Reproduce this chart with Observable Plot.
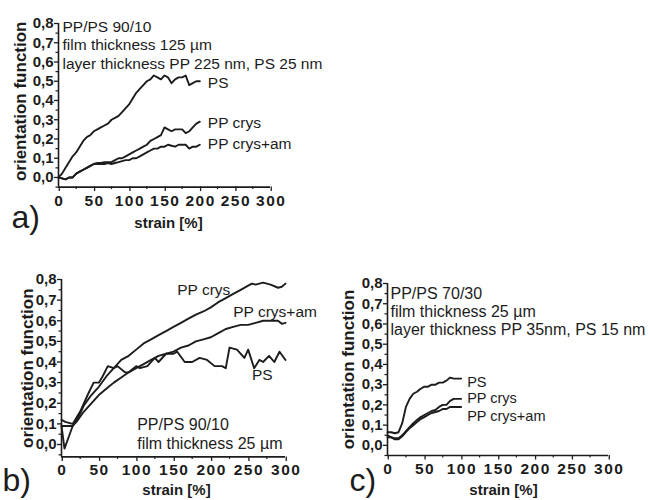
<!DOCTYPE html>
<html><head><meta charset="utf-8">
<script src="https://cdn.jsdelivr.net/npm/d3@7"></script>
<script src="https://cdn.jsdelivr.net/npm/@observablehq/plot@0.6"></script>
<style>
body{margin:0;background:#fff}
#wrap{position:relative;width:648px;height:500px;background:#fff}
#wrap svg{position:absolute;overflow:visible}
#wrap g[aria-label="x-axis tick label"] text{letter-spacing:1.5px}
</style>
</head><body><div id="wrap"></div>
<script>
// ---------- data ----------
const seriesNames = ["PS", "PP crys", "PP crys+am"];
const xMajor = [0, 50, 100, 150, 200, 250, 300];
const xMinor = [25, 75, 125, 175, 225, 275];
const yMajor = [0, 0.1, 0.2, 0.3, 0.4, 0.5, 0.6, 0.7, 0.8];
const yMinor = [-0.05, 0.05, 0.15, 0.25, 0.35, 0.45, 0.55, 0.65, 0.75];

// panel a) PP/PS 90/10, 125 µm
const aStrain = [0,5,10,15,20,25,30,35,40,45,50,55,60,65,70,75,80,85,90,95,100,105,110,115,120,125,130,135,140,145,150,155,160,165,170,175,180,185,190,195,200];
const aPS = [0.00,0.02,0.05,0.08,0.11,0.13,0.16,0.19,0.21,0.22,0.24,0.25,0.26,0.27,0.28,0.30,0.31,0.32,0.34,0.36,0.38,0.41,0.44,0.46,0.48,0.50,0.51,0.53,0.52,0.51,0.53,0.52,0.49,0.51,0.52,0.52,0.53,0.48,0.49,0.50,0.50];
const aPPcrys = [0.00,-0.005,-0.01,0.00,0.00,0.02,0.03,0.04,0.05,0.06,0.07,0.075,0.075,0.08,0.08,0.08,0.09,0.10,0.10,0.11,0.12,0.13,0.14,0.15,0.16,0.17,0.19,0.20,0.21,0.22,0.26,0.25,0.24,0.25,0.25,0.25,0.23,0.24,0.26,0.28,0.29];
const aPPcrysAm = [0.00,-0.005,-0.01,0.00,0.00,0.02,0.03,0.04,0.05,0.06,0.07,0.07,0.07,0.07,0.075,0.07,0.075,0.08,0.085,0.09,0.09,0.10,0.10,0.11,0.12,0.13,0.14,0.15,0.15,0.16,0.16,0.17,0.165,0.16,0.17,0.17,0.17,0.15,0.16,0.16,0.17];
const aNote = ["PP/PS 90/10", "film thickness 125 µm", "layer thickness PP 225 nm, PS 25 nm"];

// panel b) PP/PS 90/10, 25 µm
const bPSStrain = [0,5,15,25,35,43,50,55,62,70,75,85,90,100,105,115,125,130,140,150,155,165,175,185,195,205,215,220,225,235,245,250,258,265,270,278,285,292,300];
const bPS = [0.12,0.11,0.10,0.16,0.24,0.30,0.30,0.33,0.38,0.37,0.38,0.35,0.35,0.38,0.37,0.38,0.42,0.40,0.44,0.44,0.45,0.40,0.40,0.42,0.41,0.38,0.38,0.37,0.47,0.46,0.42,0.46,0.37,0.41,0.40,0.43,0.40,0.45,0.41];
const bCrysStrain = [0,10,15,20,25,30,40,50,60,70,80,90,100,110,120,130,140,150,160,170,180,190,200,210,220,230,240,250,255,260,265,270,275,280,290,295,300];
const bPPcrys = [0.09,0.09,0.09,0.12,0.15,0.19,0.24,0.28,0.33,0.37,0.41,0.43,0.46,0.49,0.51,0.53,0.55,0.57,0.59,0.61,0.63,0.645,0.665,0.69,0.71,0.73,0.75,0.77,0.78,0.775,0.78,0.785,0.78,0.775,0.76,0.765,0.78];
const bAmStrain = [0,4,10,15,20,30,40,50,60,70,80,90,100,110,120,130,140,150,160,170,180,190,200,210,220,230,240,250,260,270,280,290,295,300];
const bPPcrysAm = [0.09,-0.02,0.04,0.09,0.11,0.16,0.20,0.24,0.27,0.30,0.325,0.35,0.37,0.39,0.41,0.43,0.44,0.45,0.47,0.48,0.50,0.51,0.52,0.54,0.56,0.57,0.58,0.58,0.59,0.60,0.60,0.60,0.585,0.59];
const bNote = ["PP/PS 90/10", "film thickness 25 µm"];

// panel c) PP/PS 70/30, 25 µm
const cStrain = [0,5,10,15,20,25,30,35,40,45,50,55,60,65,70,75,80,85,90,95,100];
const cPS = [0.065,0.065,0.06,0.065,0.11,0.19,0.23,0.255,0.265,0.28,0.29,0.29,0.30,0.30,0.31,0.31,0.32,0.335,0.33,0.33,0.33];
const cPPcrys = [0.04,0.04,0.035,0.035,0.05,0.07,0.09,0.11,0.125,0.14,0.15,0.16,0.17,0.175,0.19,0.20,0.20,0.22,0.23,0.23,0.23];
const cPPcrysAm = [0.05,0.04,0.03,0.03,0.045,0.065,0.085,0.10,0.115,0.13,0.14,0.15,0.16,0.165,0.17,0.18,0.18,0.19,0.19,0.19,0.19];
const cNote = ["PP/PS 70/30", "film thickness 25 µm", "layer thickness PP 35nm, PS 15 nm"];

const xLabel = "strain [%]";
const yLabel = "orientation function";

// ---------- helpers ----------
const FONT = '"Liberation Sans", Arial, Helvetica, sans-serif';
const INK = "#1c1c1c";
const fmtY = d => d.toFixed(1).replace(".", ",");
const rows = (xs, ys, s) => xs.map((x, i) => ({x, y: ys[i], s}));

function panel(cfg) {
  const data = cfg.series.flat();
  const marks = [
    Plot.axisX({ticks: xMinor, anchor: "bottom", tickSize: 2.5, fill: "none", stroke: INK, strokeWidth: 1.2, label: null}),
    Plot.axisX({ticks: xMajor, anchor: "bottom", tickSize: 4.5, tickPadding: 3, tickFormat: d => String(d),
      fontSize: 15.5, fontWeight: "bold", fill: INK, stroke: INK, strokeWidth: 1.3, label: null, dx: 0.75}),
    Plot.axisY({ticks: yMinor, anchor: "left", tickSize: 2.5, fill: "none", stroke: INK, strokeWidth: 1.2, label: null}),
    Plot.axisY({ticks: yMajor, anchor: "left", tickSize: 4, tickPadding: 1, tickFormat: fmtY,
      fontSize: 15, fontWeight: "bold", fill: INK, stroke: INK, strokeWidth: 1.3, label: null}),
    Plot.ruleX([0], {stroke: INK, strokeWidth: 1.6}),
    Plot.ruleY([cfg.ymin], {stroke: INK, strokeWidth: 1.6}),
    Plot.line(data, {x: "x", y: "y", z: "s", stroke: INK, strokeWidth: 1.9}),
    // axis titles
    Plot.text([xLabel], {text: d => d, frameAnchor: "bottom", lineAnchor: "middle", dx: cfg.xlab[0], dy: cfg.xlab[1],
      fontSize: 15, fontWeight: "bold", fill: INK}),
    Plot.text([yLabel], {text: d => d, frameAnchor: "left", rotate: -90, textAnchor: "middle", lineAnchor: "middle",
      dx: cfg.ylab[0], dy: cfg.ylab[1], fontSize: 17, fontWeight: "bold", fill: INK}),
    // panel letter
    Plot.text([cfg.letter], {text: d => d, frameAnchor: "bottom-left", textAnchor: "start", lineAnchor: "middle",
      dx: cfg.letterPos[0], dy: cfg.letterPos[1], fontSize: 32, fontWeight: "normal", fill: INK}),
    // note block
    Plot.text([cfg.note.join("\n")], {text: d => d, frameAnchor: "top-left", textAnchor: "start", lineAnchor: "top",
      dx: cfg.notePos[0], dy: cfg.notePos[1], fontSize: cfg.noteSize, lineHeight: cfg.noteLH, fontWeight: "normal", fill: INK})
  ];
  cfg.labels.forEach(l => marks.push(l));
  const svg = Plot.plot({
    width: cfg.width, height: cfg.height,
    marginLeft: cfg.mL, marginRight: cfg.mR, marginTop: cfg.mT, marginBottom: cfg.mB,
    x: {domain: [0, 300], axis: null, label: null},
    y: {domain: [cfg.ymin, 0.8], axis: null, label: null},
    style: {fontFamily: FONT, background: "transparent", color: INK, overflow: "visible"},
    marks
  });
  svg.style.left = cfg.left + "px";
  svg.style.top = cfg.top + "px";
  document.getElementById("wrap").appendChild(svg);
}

function endLabels(data, dx, dys, size) {
  return seriesNames.map((name, i) =>
    Plot.text(data.filter(d => d.s === name), Plot.selectLast({x: "x", y: "y", text: "s", dx, dy: dys[i],
      textAnchor: "start", lineAnchor: "middle", fontSize: size, fontWeight: "normal", fill: INK})));
}

// ---------- panel a ----------
const aData = [rows(aStrain, aPS, "PS"), rows(aStrain, aPPcrys, "PP crys"), rows(aStrain, aPPcrysAm, "PP crys+am")];
panel({
  left: 0, top: 0, width: 330, height: 240, mL: 58, mR: 60, mT: 23, mB: 53.4, ymin: -0.05,
  series: aData, letter: "a)", letterPos: [-47, 30.5], xlab: [4, 36.5], ylab: [-38, -4],
  note: aNote, notePos: [4, -5.3], noteSize: 15.5, noteLH: 1.21,
  labels: endLabels(aData.flat(), 8, [2, 1, -1], 15.5)
});

// ---------- panel b ----------
const bData = [rows(bPSStrain, bPS, "PS"), rows(bCrysStrain, bPPcrys, "PP crys"), rows(bAmStrain, bPPcrysAm, "PP crys+am")];
const bLabelPos = [{t: "PP crys", x: 155, y: 0.747}, {t: "PP crys+am", x: 230, y: 0.641}, {t: "PS", x: 255, y: 0.335}];
panel({
  left: 0, top: 250, width: 330, height: 250, mL: 61, mR: 45, mT: 29, mB: 43.6, ymin: -0.06,
  series: bData, letter: "b)", letterPos: [-59, 23.6], xlab: [3, 33.6], ylab: [-34, 0],
  note: bNote, notePos: [75.7, 138], noteSize: 16, noteLH: 1.14,
  labels: [Plot.text(bLabelPos, {x: "x", y: "y", text: "t", textAnchor: "start", lineAnchor: "middle",
    fontSize: 15.5, fontWeight: "normal", fill: INK})]
});

// ---------- panel c ----------
const cData = [rows(cStrain, cPS, "PS"), rows(cStrain, cPPcrys, "PP crys"), rows(cStrain, cPPcrysAm, "PP crys+am")];
panel({
  left: 330, top: 250, width: 318, height: 250, mL: 57, mR: 40, mT: 33, mB: 45, ymin: -0.05,
  series: cData, letter: "c)", letterPos: [-38, 25], xlab: [5.5, 35], ylab: [-39, 0],
  note: cNote, notePos: [3, 3], noteSize: 16, noteLH: 1.11,
  labels: endLabels(cData.flat(), 6, [3.5, -0.5, 9.5], 14.5)
});
</script>
</body></html>
